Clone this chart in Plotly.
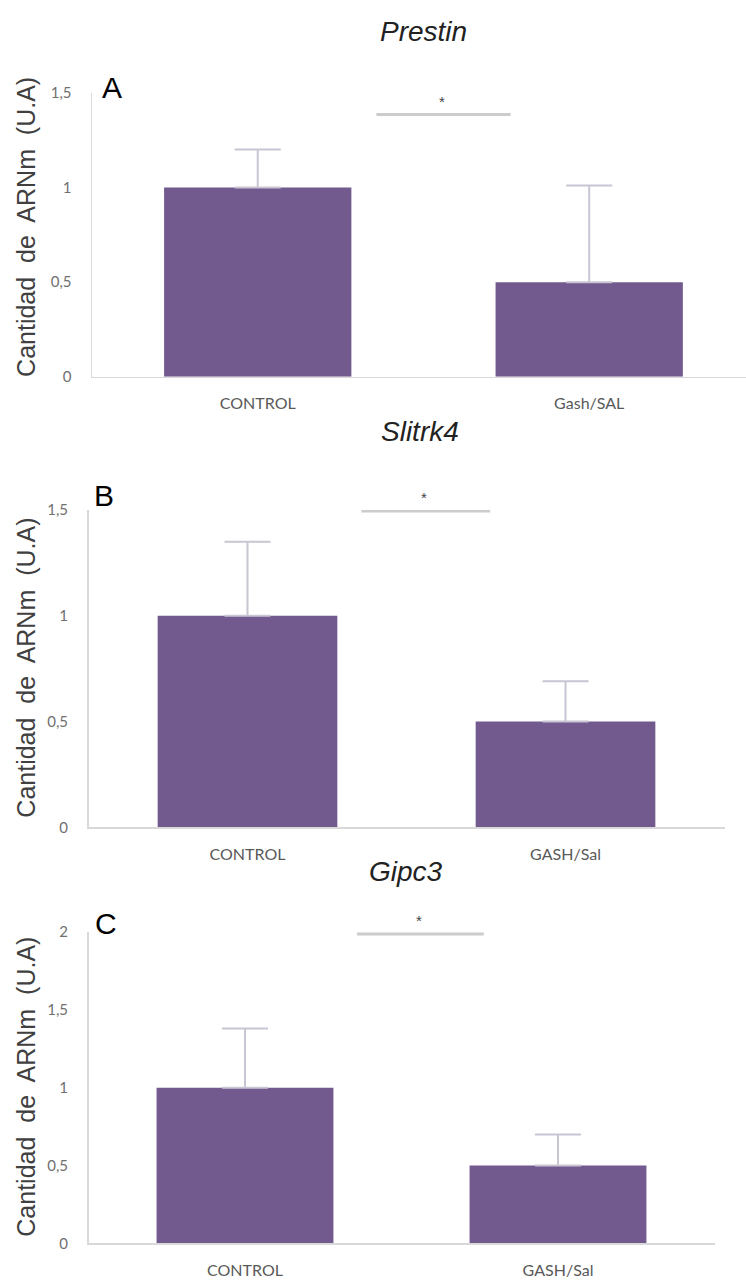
import plotly.graph_objects as go

# ---------------- data ----------------
genes = ["Prestin", "Slitrk4", "Gipc3"]
panel_letters = ["A", "B", "C"]
categories_a = ["CONTROL", "Gash/SAL"]
categories_b = ["CONTROL", "GASH/Sal"]
categories_c = ["CONTROL", "GASH/Sal"]
values_a = [1.0, 0.5]
values_b = [1.0, 0.5]
values_c = [1.0, 0.5]
errors_a = [0.20, 0.51]
errors_b = [0.35, 0.19]
errors_c = [0.38, 0.20]
ticks_ab = [0, 0.5, 1, 1.5]
ticktext_ab = ["0", "0,5", "1", "1,5"]
ticks_c = [0, 0.5, 1, 1.5, 2]
ticktext_c = ["0", "0,5", "1", "1,5", "2"]
sig_label = "*"
ytitle = "Cantidad\u00a0 de\u00a0 ARNm\u00a0 (U.A)"

# ---------------- style / layout ----------------
W, H = 746, 1285
BAR = "#72598E"
ERR = "#C9C5D3"
AXC = "#D9D9D9"
TICKC = "#707070"

panels = [
    dict(cats=categories_a, vals=values_a, errs=errors_a, ticks=ticks_ab, tt=ticktext_ab,
         ypx=(84, 372), xpx=(92, 746), xr=(-0.5, 1.473), yr=(0, 1.5),
         sig_y=1.385, title_y=22, letter=(112, 79), ytit_y=220),
    dict(cats=categories_b, vals=values_b, errs=errors_b, ticks=ticks_ab, tt=ticktext_ab,
         ypx=(507, 829), xpx=(88.5, 724.5), xr=(-0.5, 1.5), yr=(0, 1.5),
         sig_y=1.495, title_y=427, letter=(104, 492), ytit_y=667),
    dict(cats=categories_c, vals=values_c, errs=errors_c, ticks=ticks_c, tt=ticktext_c,
         ypx=(935, 1251), xpx=(88.5, 714.5), xr=(-0.5, 1.5), yr=(0, 2),
         sig_y=1.987, title_y=874, letter=(106, 926), ytit_y=1092),
]
title_x = [423, 420, 406]

fig = go.Figure()
annotations = []
shapes = []
for i, p in enumerate(panels):
    n = "" if i == 0 else str(i + 1)
    xa, ya = "x" + n, "y" + n
    fig.add_trace(go.Bar(
        x=p["cats"], y=p["vals"], xaxis=xa, yaxis=ya,
        marker=dict(color=BAR, line=dict(width=0)), width=0.565,
        error_y=dict(type="data", array=p["errs"], arrayminus=[0] * len(p["errs"]),
                     symmetric=False, color=ERR, thickness=2, width=23),
        showlegend=False, hoverinfo="skip",
    ))
    dom_y = [1 - p["ypx"][1] / H, 1 - p["ypx"][0] / H]
    dom_x = [p["xpx"][0] / W, p["xpx"][1] / W]
    fig.layout["xaxis" + n] = dict(
        domain=dom_x, range=list(p["xr"]), anchor=ya, showline=True, linecolor=AXC,
        linewidth=1.5, showgrid=False, zeroline=False, ticks="",
        tickfont=dict(family="Lato", size=16, color="#595959"), ticklabelstandoff=12,
        fixedrange=True,
    )
    fig.layout["yaxis" + n] = dict(
        domain=dom_y, range=list(p["yr"]), anchor=xa, showline=True, linecolor=AXC,
        linewidth=1.5, showgrid=False, zeroline=False, ticks="",
        tickvals=p["ticks"], ticktext=p["tt"],
        tickfont=dict(family="Lato", size=15, color=TICKC), ticklabelstandoff=16,
        fixedrange=True,
    )
    # significance bar
    shapes.append(dict(type="line", xref=xa, yref=ya, x0=0.358, x1=0.763,
                       y0=p["sig_y"], y1=p["sig_y"], line=dict(color="#CCCCCC", width=3)))
    annotations.append(dict(text=sig_label, xref=xa, yref=ya, x=0.555, y=p["sig_y"],
                            yanchor="bottom", yshift=3, showarrow=False,
                            font=dict(family="Liberation Sans", size=15, color="#444444")))
    # gene title
    annotations.append(dict(text="<i>%s</i>" % genes[i], xref="paper", yref="paper",
                            x=title_x[i] / W, y=1 - p["title_y"] / H, xanchor="center", yanchor="middle",
                            showarrow=False, font=dict(family="Liberation Sans", size=28, color="#222222")))
    # panel letter
    annotations.append(dict(text=panel_letters[i], xref="paper", yref="paper",
                            x=p["letter"][0] / W, y=1 - p["letter"][1] / H, xanchor="center", yanchor="middle",
                            showarrow=False, font=dict(family="Liberation Sans", size=30, color="#000000")))
    # y-axis title
    annotations.append(dict(text=ytitle, xref="paper", yref="paper", textangle=-90,
                            x=26 / W, y=1 - p["ytit_y"] / H, xanchor="center", yanchor="middle",
                            showarrow=False, font=dict(family="Liberation Sans", size=25, color="#404040")))

fig.update_layout(
    width=W, height=H, margin=dict(l=0, r=0, t=0, b=0),
    paper_bgcolor="white", plot_bgcolor="white",
    annotations=annotations, shapes=shapes,
)
post = (
    "document.documentElement.style.margin='0';"
    "document.documentElement.style.overflow='hidden';"
    "document.body.style.margin='0';document.body.style.padding='0';"
    "document.body.style.overflow='hidden';"
)
fig.write_html("out.html", config={"displayModeBar": False, "staticPlot": True},
               post_script=post)
